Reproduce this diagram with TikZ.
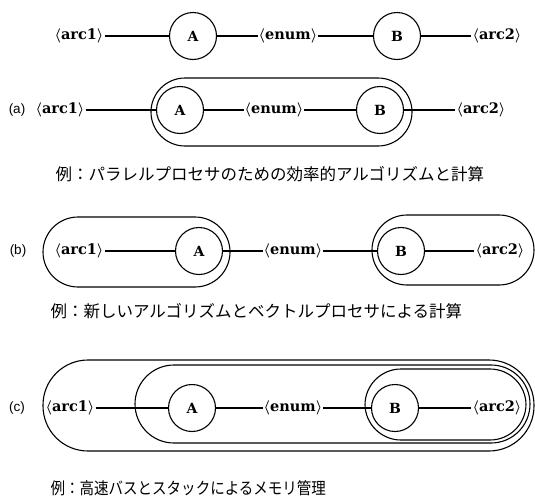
\documentclass[tikz,border=0pt]{standalone}
\usepackage{fontspec}
\usepackage{graphicx}
\setmainfont{DejaVu Serif}
\newfontfamily\cjk{Noto Sans CJK JP}
\newfontfamily\lblfont{Liberation Sans}
\begin{document}
\begin{tikzpicture}[x=1pt,y=-1pt,line width=1.1pt,
  stc/.style={circle,draw,minimum size=47pt,inner sep=0pt,font=\bfseries\fontsize{14}{14}\selectfont},
  lab/.style={inner sep=0.6pt,font=\bfseries\boldmath\fontsize{14.5}{14.5}\selectfont},
  rowlbl/.style={inner sep=0pt,font=\lblfont\fontsize{13.5}{13.5}\selectfont},
  capt/.style={anchor=west,inner sep=0pt,font=\cjk\fontsize{16.5}{16.5}\selectfont},
  ovl/.style={draw,line width=1.1pt}]
\useasboundingbox (0,0) rectangle (535,501);

% Row 1
\node[lab] (r1a1) at (79,36) {$\langle$arc1$\rangle$};
\node[stc] (r1A) at (193,36) {A};
\node[lab] (r1en) at (288,36) {$\langle$enum$\rangle$};
\node[stc] (r1B) at (397,36) {B};
\node[lab] (r1a2) at (497,36) {$\langle$arc2$\rangle$};
\draw (r1a1) -- (r1A);
\draw (r1A) -- (r1en);
\draw (r1en) -- (r1B);
\draw (r1B) -- (r1a2);

% Row (a)
\node[rowlbl] (la) at (17,110) {(a)};
\node[lab] (raa1) at (60,110) {$\langle$arc1$\rangle$};
\node[stc] (raA) at (180,110) {A};
\node[lab] (raen) at (274,110) {$\langle$enum$\rangle$};
\node[stc] (raB) at (380,110) {B};
\node[lab] (raa2) at (481,110) {$\langle$arc2$\rangle$};
\draw (raa1) -- (raA);
\draw (raA) -- (raen);
\draw (raen) -- (raB);
\draw (raB) -- (raa2);
\draw[ovl,rounded corners=34pt] (151,78) rectangle (412,146);

\node[capt] (cap1) at (55,174) {例：パラレルプロセサのための効率的アルゴリズムと計算};

% Row (b)
\node[rowlbl] (lb) at (18,251) {(b)};
\node[lab] (rba1) at (79,251) {$\langle$arc1$\rangle$};
\node[stc] (rbA) at (199,251) {A};
\node[lab] (rben) at (293,251) {$\langle$enum$\rangle$};
\node[stc] (rbB) at (401,251) {B};
\node[lab] (rba2) at (500,251) {$\langle$arc2$\rangle$};
\draw (rba1) -- (rbA);
\draw (rbA) -- (rben);
\draw (rben) -- (rbB);
\draw (rbB) -- (rba2);
\draw[ovl,rounded corners=35pt] (43,217) rectangle (230,287);
\draw[ovl,rounded corners=35pt] (372,215) rectangle (534,285);

\node[capt] (cap2) at (50,311) {例：新しいアルゴリズムとベクトルプロセサによる計算};

% Row (c)
\node[rowlbl] (lc) at (17,408) {(c)};
\node[lab] (rca1) at (70,408) {$\langle$arc1$\rangle$};
\node[stc] (rcA) at (192,408) {A};
\node[lab] (rcen) at (293,408) {$\langle$enum$\rangle$};
\node[stc] (rcB) at (395,408) {B};
\node[lab] (rca2) at (497,408) {$\langle$arc2$\rangle$};
\draw (rca1) -- (rcA);
\draw (rcA) -- (rcen);
\draw (rcen) -- (rcB);
\draw (rcB) -- (rca2);
\draw[ovl,rounded corners=45pt] (43,360) rectangle (534,451);
\draw[ovl,rounded corners=39pt] (135,365) rectangle (530,443);
\draw[ovl,rounded corners=36pt] (365,369) rectangle (526,440);

\node[capt] (cap3) at (50,488) {\scalebox{0.88}[1]{例：高速バスとスタックによるメモリ管理}};
\end{tikzpicture}
\end{document}
